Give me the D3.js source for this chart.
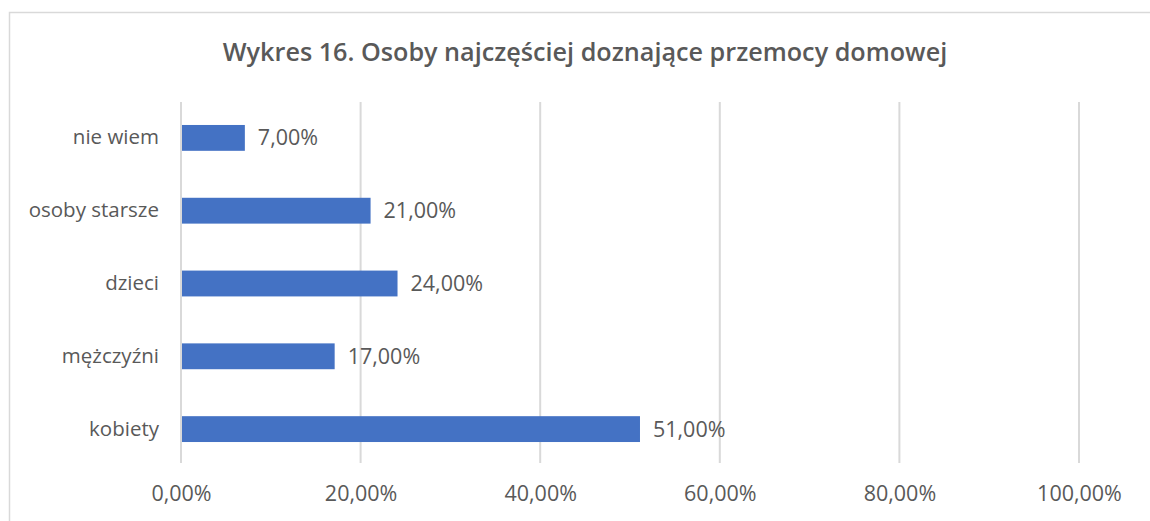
<!DOCTYPE html>
<html>
<head>
<meta charset="utf-8">
<script src="https://cdn.jsdelivr.net/npm/d3@7"></script>
<style>
  body { margin: 0; background: #fff; }
  svg { display: block; }
</style>
</head>
<body>
<script>
// data
var categories = ["nie wiem", "osoby starsze", "dzieci", "mężczyźni", "kobiety"];
var values = [7, 21, 24, 17, 51];
var tickValues = [0, 20, 40, 60, 80, 100];
var title = "Wykres 16. Osoby najczęściej doznające przemocy domowej";

var width = 1150, height = 521;
var textColor = "#595959";
var barColor = "#4472C4";
var font = "'Open Sans', sans-serif";

var svg = d3.select("body").append("svg")
  .attr("width", width)
  .attr("height", height);

// chart frame (cut off at right and bottom)
svg.append("rect")
  .attr("x", 9.5).attr("y", 12.5)
  .attr("width", width + 20).attr("height", height + 20)
  .attr("fill", "none")
  .attr("stroke", "#d9d9d9")
  .attr("stroke-width", 1.5);

svg.append("text")
  .attr("x", 585).attr("y", 61)
  .attr("text-anchor", "middle")
  .attr("font-family", font)
  .attr("font-weight", 600)
  .attr("font-size", 25.2)
  .attr("fill", textColor)
  .text(title);

var x = d3.scaleLinear().domain([0, 100]).range([181, 1079]);
var y = d3.scaleBand().domain(categories).range([101.5, 465.5]).paddingInner(0.645).paddingOuter(0.3225);

// gridlines
svg.append("g").selectAll("line")
  .data(tickValues)
  .join("line")
  .attr("x1", d => x(d)).attr("x2", d => x(d))
  .attr("y1", 102).attr("y2", 463)
  .attr("stroke", "#d9d9d9")
  .attr("stroke-width", 2);

var fmt = d => d3.format(".2f")(d).replace(".", ",") + "%";

// x axis labels
var xAxis = d3.axisBottom(x).tickValues(tickValues).tickSize(0).tickPadding(0).tickFormat(fmt);
var gx = svg.append("g").attr("transform", "translate(0,486)").call(xAxis);
gx.select(".domain").remove();
gx.selectAll("text")
  .attr("font-family", font)
  .attr("font-size", 21.5)
  .attr("fill", textColor);

// y axis labels
var yAxis = d3.axisLeft(y).tickSize(0).tickPadding(0);
var gy = svg.append("g").attr("transform", "translate(159,0)").call(yAxis);
gy.select(".domain").remove();
gy.selectAll("text")
  .attr("font-family", font)
  .attr("font-size", 20.5)
  .attr("fill", textColor);

// bars
svg.append("g").selectAll("rect")
  .data(values)
  .join("rect")
  .attr("x", x(0) + 1)
  .attr("y", (d, i) => y(categories[i]))
  .attr("width", d => x(d) - x(0))
  .attr("height", y.bandwidth())
  .attr("fill", barColor);

// value labels
svg.append("g").selectAll("text")
  .data(values)
  .join("text")
  .attr("x", d => x(d) + 14)
  .attr("y", (d, i) => y(categories[i]) + y.bandwidth() / 2)
  .attr("dy", "0.35em")
  .attr("font-family", font)
  .attr("font-size", 21.5)
  .attr("fill", textColor)
  .text(d => fmt(d));
</script>
</body>
</html>
